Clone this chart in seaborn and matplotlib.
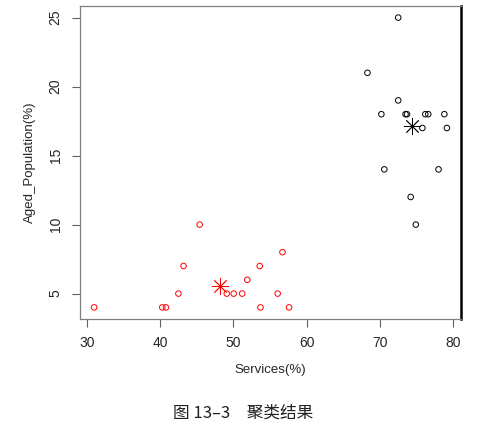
import numpy as np
import pandas as pd
import seaborn as sns
import matplotlib
matplotlib.use("Agg")
import matplotlib.pyplot as plt

# cluster 1 (red)
services_1 = [31.0, 40.3, 40.8, 42.5, 43.2, 45.4, 49.1, 50.05, 51.2, 51.9, 53.6, 53.7, 56.05, 56.7, 57.6]
aged_1 = [4, 4, 4, 5, 7, 10, 5, 5, 5, 6, 7, 4, 5, 8, 4]

# cluster 2 (black)
services_2 = [72.5, 68.3, 72.5, 70.2, 73.5, 73.7, 76.2, 76.6, 78.8, 75.8, 79.15, 70.6, 78.0, 74.2, 74.9]
aged_2 = [25, 21, 19, 18, 18, 18, 18, 18, 18, 17, 17, 14, 14, 12, 10]

x_ticks = [30, 40, 50, 60, 70, 80]
y_ticks = [5, 10, 15, 20, 25]

df = pd.DataFrame({
    "Services": services_1 + services_2,
    "Aged": aged_1 + aged_2,
    "cluster": ["1"] * len(services_1) + ["2"] * len(services_2),
})
centers = df.groupby("cluster")[["Services", "Aged"]].mean().reset_index()
colors = {"1": "red", "2": "black"}

sns.set_style("ticks")
plt.rcParams["font.family"] = ["Liberation Sans", "DejaVu Sans"]

fig = plt.figure(figsize=(4.91, 4.28), dpi=100)
ax = fig.add_axes([0.163, 0.2547, 0.776, 0.7313])

for k, col in colors.items():
    sub = df[df["cluster"] == k]
    sns.scatterplot(data=sub, x="Services", y="Aged", ax=ax, marker="o", s=16,
                    facecolor="none", edgecolor=col, linewidth=0.7, legend=False)
    c = centers[centers["cluster"] == k]
    sns.scatterplot(data=c, x="Services", y="Aged", ax=ax, marker=(8, 2, 0), s=140,
                    color=col, linewidth=0.6, legend=False)

# R style range (4% padding)
xr = df["Services"].max() - df["Services"].min()
yr = df["Aged"].max() - df["Aged"].min()
ax.set_xlim(df["Services"].min() - 0.04 * xr, df["Services"].max() + 0.04 * xr)
ax.set_ylim(df["Aged"].min() - 0.04 * yr, df["Aged"].max() + 0.04 * yr)

ax.set_xticks(x_ticks)
ax.set_yticks(y_ticks)
ax.tick_params(axis="both", length=5.5, width=0.8, color="#606060", labelsize=10, pad=7)
for lab in ax.get_yticklabels():
    lab.set_rotation(90)
    lab.set_va("center")

ax.set_xlabel("Services(%)", fontsize=9.5, labelpad=10)
ax.set_ylabel("Aged_Population(%)", fontsize=9.5, labelpad=9)

for side in ["left", "bottom", "top"]:
    ax.spines[side].set_color("#808080")
    ax.spines[side].set_linewidth(0.9)
ax.spines["right"].set_color("black")
ax.spines["right"].set_linewidth(1.8)

fig.text(0.495, 0.035, "图 13–3\u3000聚类结果", ha="center", va="center", fontsize=12,
         family=["Noto Sans CJK SC", "DejaVu Sans"], color="#222222")

fig.savefig("out.png", dpi=100)
